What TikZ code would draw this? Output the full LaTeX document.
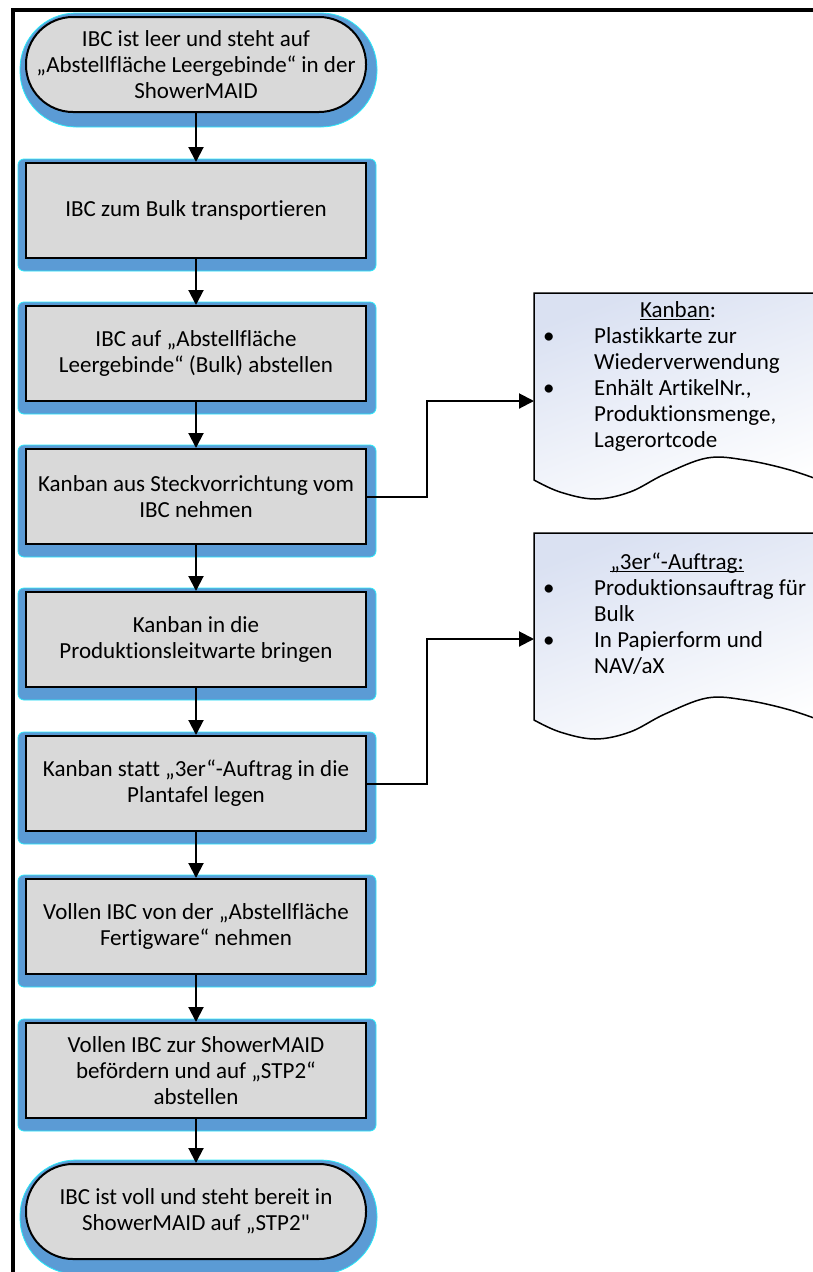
\documentclass[tikz,border=0pt]{standalone}
\usepackage{fontspec}
\setmainfont[Ligatures=NoCommon]{Carlito}
% same face without the TeX quote mapping, for a straight double quote
\newfontfamily\plainquote{Carlito}
\usetikzlibrary{arrows.meta,backgrounds}

\definecolor{boxgray}{RGB}{217,217,217}
\definecolor{glowblue}{RGB}{91,155,213}
\definecolor{glowedge}{RGB}{40,235,250}
\definecolor{doctop}{RGB}{218,225,242}

% underline at a fixed depth below the baseline
\newcommand\lineul[1]{\setbox0\hbox{#1}\rlap{\rule[-2.6pt]{\wd0}{1.1pt}}\box0}

\tikzset{
  x=1pt, y=-1pt,
  txt/.style={font=\fontsize{23}{26}\selectfont, text=black},
  stepbox/.style={txt, draw=black, line width=2pt, fill=boxgray,
    minimum width=340pt, minimum height=95pt, inner sep=0pt, align=center},
  termbox/.style={stepbox, rounded corners=47pt},
  glow/.style={fill=glowblue, draw=glowedge, line width=0.8pt},
  flow/.style={draw=black, line width=2pt, -{Triangle[width=15pt,length=15pt]}},
  docshape/.style={draw=black, line width=1.5pt, top color=doctop, bottom color=white, shading angle=20},
  doctext/.style={txt, inner sep=0pt},
}

\begin{document}
\begin{tikzpicture}
\useasboundingbox (0,0) rectangle (813,1272);
\clip (0,0) rectangle (813,1272);

% process chain
\node[termbox] (t1) at (196,64.5) {IBC ist leer und steht auf\\„Abstellfläche Leergebinde“ in der\\ShowerMAID};
\node[stepbox] (s2) at (196,210.5) {IBC zum Bulk transportieren};
\node[stepbox] (s3) at (196,353.5) {IBC auf „Abstellfläche\\Leergebinde“ (Bulk) abstellen};
\node[stepbox] (s4) at (196,496.5) {Kanban aus Steckvorrichtung vom\\IBC nehmen};
\node[stepbox] (s5) at (196,639.5) {Kanban in die\\Produktionsleitwarte bringen};
\node[stepbox] (s6) at (196,783.5) {Kanban statt „3er“-Auftrag in die\\Plantafel legen};
\node[stepbox] (s7) at (196,926.5) {Vollen IBC von der „Abstellfläche\\Fertigware“ nehmen};
\node[stepbox] (s8) at (196,1070.5) {Vollen IBC zur ShowerMAID\\befördern und auf „STP2“\\abstellen};
\node[termbox] (t9) at (196,1211.5) {IBC ist voll und steht bereit in\\ShowerMAID auf „STP2{\plainquote"}};

% blue glow behind the shapes
\begin{scope}[on background layer]
  \foreach \n in {s2,s3,s4,s5,s6,s7,s8}
    \path[glow, rounded corners=6pt] ([shift={(-7,-3)}]\n.north west) rectangle ([shift={(9,12)}]\n.south east);
  \foreach \n in {t1,t9}
    \path[glow, rounded corners=56pt] ([shift={(-5,-3)}]\n.north west) rectangle ([shift={(10,14)}]\n.south east);
\end{scope}

% flow arrows
\draw[flow] (t1.south) -- (s2.north);
\draw[flow] (s2.south) -- (s3.north);
\draw[flow] (s3.south) -- (s4.north);
\draw[flow] (s4.south) -- (s5.north);
\draw[flow] (s5.south) -- (s6.north);
\draw[flow] (s6.south) -- (s7.north);
\draw[flow] (s7.south) -- (s8.north);
\draw[flow] (s8.south) -- (t9.north);

% document shapes
\foreach \dy in {0,240} {
  \begin{scope}[shift={(0,\dy)}]
    \path[docshape] (534,293) -- (845,293) -- (845,490)
      -- plot[smooth, tension=0.6] coordinates {(830,484) (790,470) (745,460) (707,458) (665,474) (630,492) (595,499) (560,492) (534,480)}
      -- cycle;
  \end{scope}
}
\coordinate (k1) at (534,401);
\coordinate (k2) at (534,639);

\node[doctext, anchor=base] (d1title) at (678,317) {\lineul{Kanban}:};
\node[doctext, anchor=base west] (d1body) at (543,343) {\begin{tabular}[t]{@{}p{51pt}@{}l@{}}
\textbullet & Plastikkarte zur\\
 & Wiederverwendung\\
\textbullet & Enhält ArtikelNr.,\\
 & Produktionsmenge,\\
 & Lagerortcode
\end{tabular}};

\node[doctext, anchor=base] (d2title) at (677,569) {\lineul{„3er“-Auftrag:}};
\node[doctext, anchor=base west] (d2body) at (543,595) {\begin{tabular}[t]{@{}p{51pt}@{}l@{}}
\textbullet & Produktionsauftrag für\\
 & Bulk\\
\textbullet & In Papierform und\\
 & NAV/aX
\end{tabular}};

% side connectors
\draw[flow] (s4.east) -- ++(60,0) |- (k1);
\draw[flow] (s6.east) -- ++(60,0) |- (k2);

% frame
\draw[line width=4pt] (13,1290) -- (13,10) -- (830,10);
\end{tikzpicture}
\end{document}
